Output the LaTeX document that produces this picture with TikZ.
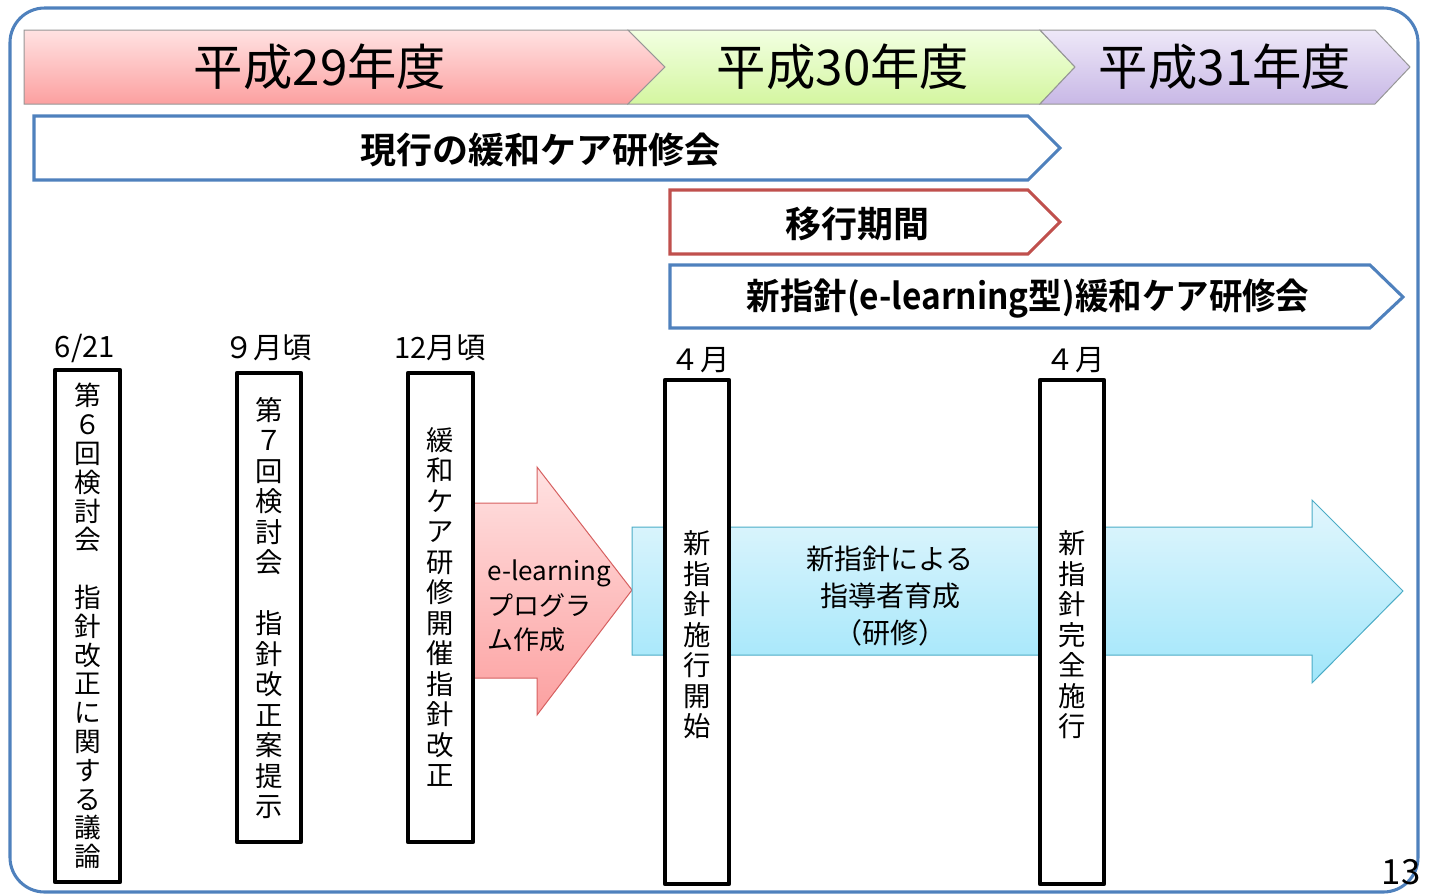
\documentclass[tikz,border=0pt]{standalone}
\usepackage{fontspec}
\setmainfont{Noto Sans CJK JP}[BoldFont={Noto Sans CJK JP Bold}]

\definecolor{frameblue}{RGB}{79,129,189}
\definecolor{framered}{RGB}{192,80,77}
\definecolor{hdrgray}{RGB}{150,150,150}
\definecolor{pinktop}{RGB}{255,226,226}
\definecolor{pinkbot}{RGB}{252,160,160}
\definecolor{greentop}{RGB}{242,255,226}
\definecolor{greenbot}{RGB}{212,246,160}
\definecolor{purpletop}{RGB}{238,232,248}
\definecolor{purplebot}{RGB}{200,184,230}
\definecolor{arrowred}{RGB}{214,96,96}
\definecolor{cyantop}{RGB}{226,246,253}
\definecolor{cyanbot}{RGB}{160,230,250}
\definecolor{cyanline}{RGB}{75,172,198}

\tikzset{every picture/.style={line width=0.75pt}}
\tikzset{
  yrtxt/.style={inner sep=0.75pt, font=\fontsize{37}{40}\selectfont},
  bartxt/.style={inner sep=0.75pt, font=\bfseries\fontsize{27}{30}\selectfont},
  datetxt/.style={inner sep=0.75pt, font=\fontsize{22}{24}\selectfont},
  vtxt/.style={inner sep=0.75pt, align=center, font=\fontsize{20.5}{22.9}\selectfont},
  tbox/.style={draw=black, fill=white, line width=3.6pt, line join=round},
}

\begin{document}
\begin{tikzpicture}[x=0.75pt,y=0.75pt,yscale=-1,xscale=1]
\useasboundingbox (0,0) rectangle (1429,894);

%Shape: Rounded Rectangle [frame]
\draw [color=frameblue, line width=2.3pt, rounded corners=26pt] (10,8) rectangle (1418,892);

%Shape: Pentagon [H29]
\draw [draw=hdrgray, top color=pinktop, bottom color=pinkbot] (24,30) -- (628,30) -- (665,67) -- (628,104) -- (24,104) -- cycle ;
%Shape: Chevron [H30]
\draw [draw=hdrgray, top color=greentop, bottom color=greenbot] (628,30) -- (1040,30) -- (1075,67) -- (1040,104) -- (628,104) -- (665,67) -- cycle ;
%Shape: Chevron [H31]
\draw [draw=hdrgray, top color=purpletop, bottom color=purplebot] (1040,30) -- (1375,30) -- (1410,67) -- (1375,104) -- (1040,104) -- (1075,67) -- cycle ;

%Shape: Pentagon [current]
\draw [color=frameblue, line width=2.3pt, fill=white] (34,116) -- (1028,116) -- (1060,148) -- (1028,180) -- (34,180) -- cycle ;
%Shape: Pentagon [transition]
\draw [color=framered, line width=2.3pt, fill=white] (670,190) -- (1028,190) -- (1060,222) -- (1028,254) -- (670,254) -- cycle ;
%Shape: Pentagon [new]
\draw [color=frameblue, line width=2.3pt, fill=white] (670,265) -- (1370,265) -- (1403,297) -- (1370,328) -- (670,328) -- cycle ;

%Shape: Right Arrow [e-learning]
\draw [draw=arrowred, top color=pinktop, bottom color=pinkbot] (440,503) -- (537,503) -- (537,467) -- (632,590) -- (537,715) -- (537,678) -- (440,678) -- cycle ;
%Shape: Right Arrow [training]
\draw [draw=cyanline, top color=cyantop, bottom color=cyanbot] (632,527) -- (1312,527) -- (1312,500) -- (1403,591) -- (1312,683) -- (1312,655) -- (632,655) -- cycle ;

%Shape: Rectangle [box1]
\draw [tbox] (55,370) rectangle (120,882) ;
%Shape: Rectangle [box2]
\draw [tbox] (237,373) rectangle (301,842) ;
%Shape: Rectangle [box3]
\draw [tbox] (408,373) rectangle (473,842) ;
%Shape: Rectangle [box4]
\draw [tbox] (665,380) rectangle (729,884) ;
%Shape: Rectangle [box5]
\draw [tbox] (1040,380) rectangle (1104,884) ;

% Text Node
\draw (320,67) node (yr29) [yrtxt] {平成29年度};
% Text Node
\draw (843,67) node (yr30) [yrtxt] {平成30年度};
% Text Node
\draw (1225,67) node (yr31) [yrtxt] {平成31年度};
% Text Node
\draw (540,150) node (cur) [bartxt] {現行の緩和ケア研修会};
% Text Node
\draw (857,224) node (trans) [bartxt] {移行期間};
% Text Node
\draw (1028,299) node (newc) [bartxt] {\scalebox{0.93}[1]{新指針(e-learning型)緩和ケア研修会}};

% Text Node
\draw (85,348) node (d1) [datetxt] {6/21};
% Text Node
\draw (268,348) node (d2) [datetxt] {９月頃};
% Text Node
\draw (440,348) node (d3) [datetxt] {12月頃};
% Text Node
\draw (700,360) node (d4) [datetxt] {４月};
% Text Node
\draw (1075,360) node (d5) [datetxt] {４月};

% Text Node
\draw (87.5,626) node (t1) [vtxt, font=\fontsize{20}{21.6}\selectfont] {第\\６\\回\\検\\討\\会\\　\\指\\針\\改\\正\\に\\関\\す\\る\\議\\論};
% Text Node
\draw (269,608) node (t2) [vtxt] {第\\７\\回\\検\\討\\会\\　\\指\\針\\改\\正\\案\\提\\示};
% Text Node
\draw (440.5,607) node (t3) [vtxt] {緩\\和\\ケ\\ア\\研\\修\\開\\催\\指\\針\\改\\正};
% Text Node
\draw (697,635) node (t4) [vtxt] {新\\指\\針\\施\\行\\開\\始};
% Text Node
\draw (1072,635) node (t5) [vtxt] {新\\指\\針\\完\\全\\施\\行};

% Text Node
\draw (486,606) node (elt) [anchor=west, inner sep=0.75pt, align=left, font=\fontsize{19.5}{26}\selectfont] {e-learning\\プログラ\\ム作成};
% Text Node
\draw (890,596) node (trt) [inner sep=0.75pt, align=center, font=\fontsize{21}{27.5}\selectfont] {新指針による\\指導者育成\\（研修）};

% Text Node
\draw (1401,872) node (pg) [inner sep=0.75pt, font=\fontsize{26}{28}\selectfont] {13};

\end{tikzpicture}
\end{document}
